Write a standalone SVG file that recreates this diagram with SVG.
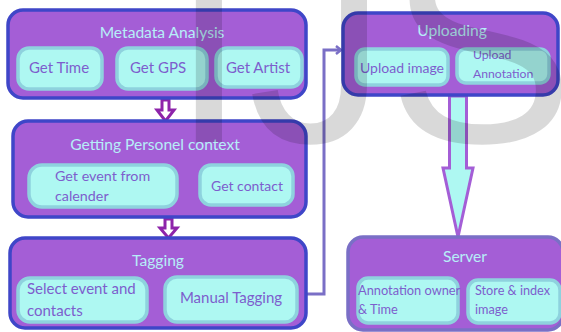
<svg xmlns="http://www.w3.org/2000/svg" width="561" height="332" viewBox="0 0 561 332">
  <style>
    .grp { fill: #a45ed6; stroke: #3f46c8; stroke-width: 3.5; }
    .grp2 { fill: #a45ed6; stroke: #7a6fc6; stroke-width: 3.5; }
    .item { fill: #aef8f2; stroke: #8ed2de; stroke-width: 3.5; }
    .title { font-family: Lato, "Open Sans", sans-serif; font-size: 15.6px; fill: #b6eef8; text-anchor: middle; }
    .lbl { font-family: Lato, "Open Sans", sans-serif; font-size: 15px; fill: #7d5ecd; }
    .mid { text-anchor: middle; }
    .step { fill: #ffffff; stroke: #8e24aa; stroke-width: 3; stroke-linejoin: miter; }
    .link { fill: none; stroke: #7a6fc6; stroke-width: 3; }
    .wm { font-family: "Liberation Sans", Arial, sans-serif; font-size: 280px; fill: #000000; fill-opacity: 0.15; }
  </style>
  <defs>
    <marker id="chev" viewBox="0 0 8 10" refX="6" refY="5" markerWidth="8" markerHeight="10" markerUnits="userSpaceOnUse" orient="auto">
      <path d="M1,1 L6,5 L1,9" fill="none" stroke="#7a6fc6" stroke-width="2.5"/>
    </marker>
  </defs>

  <rect width="561" height="332" fill="#ffffff"/>

  <!-- connectors -->
  <g id="connectors">
    <polygon class="step" points="162,100 169,100 169,110 174,110 165.5,121 157,110 162,110"/>
    <polygon class="step" points="165,219 172,219 172,228 177,228 168.5,238 160,228 165,228"/>
    <polyline class="link" points="306,294 324,294 324,50 341,50" marker-end="url(#chev)"/>
    <polygon points="449.5,96 466.5,96 466.5,168 473,168 458,237 443,168 449.5,168" fill="#aef8f2" stroke="#a45ed6" stroke-width="3"/>
  </g>

  <!-- Metadata Analysis -->
  <g id="metadata">
    <rect class="grp" x="8" y="10" width="298" height="88" rx="15"/>
    <text class="title" x="162" y="38">Metadata Analysis</text>
    <rect class="item" x="18" y="48" width="84" height="41" rx="11"/>
    <text class="lbl mid" x="59" y="73">Get Time</text>
    <rect class="item" x="117" y="48" width="90" height="41" rx="11"/>
    <text class="lbl mid" x="158" y="73">Get GPS</text>
    <rect class="item" x="216" y="48" width="86" height="39" rx="11"/>
    <text class="lbl mid" x="258" y="73">Get Artist</text>
  </g>

  <!-- Getting Personel context -->
  <g id="personal">
    <rect class="grp" x="13" y="121" width="293" height="96" rx="15"/>
    <text class="title" x="155" y="150">Getting Personel context</text>
    <rect class="item" x="29" y="165" width="148" height="42" rx="13"/>
    <text class="lbl" x="55" y="181" style="font-size:14.3px">Get event from</text>
    <text class="lbl" x="55" y="201" style="font-size:14.3px">calender</text>
    <rect class="item" x="200" y="165" width="93" height="40" rx="11"/>
    <text class="lbl mid" x="247" y="191" style="font-size:14px">Get contact</text>
  </g>

  <!-- Tagging -->
  <g id="tagging">
    <rect class="grp" x="10" y="238" width="296" height="90" rx="15"/>
    <text class="title" x="158" y="266">Tagging</text>
    <rect class="item" x="18" y="278" width="129" height="44" rx="12"/>
    <text class="lbl" x="27" y="294">Select event and</text>
    <text class="lbl" x="27" y="316">contacts</text>
    <rect class="item" x="165" y="277" width="132" height="45" rx="12"/>
    <text class="lbl mid" x="231" y="303">Manual Tagging</text>
  </g>

  <!-- Uploading -->
  <g id="uploading">
    <rect class="grp" x="343" y="13" width="215" height="82" rx="15"/>
    <text class="title" x="452" y="36">Uploading</text>
    <rect class="item" x="356" y="49" width="92" height="36" rx="9"/>
    <text class="lbl mid" x="402" y="73" style="font-size:14px">Upload image</text>
    <rect class="item" x="457" y="49" width="92" height="34" rx="9"/>
    <text class="lbl" x="473" y="59" style="font-size:12.2px">Upload</text>
    <text class="lbl" x="473" y="78" style="font-size:12.2px">Annotation</text>
  </g>

  <!-- Server -->
  <g id="server">
    <rect class="grp2" x="348" y="237" width="215" height="93" rx="15"/>
    <text class="title" x="465" y="262">Server</text>
    <rect class="item" x="358" y="278" width="100" height="45" rx="10"/>
    <text class="lbl" x="358" y="295" style="font-size:12.8px">Annotation owner</text>
    <text class="lbl" x="358" y="314" style="font-size:12.8px">&amp; Time</text>
    <rect class="item" x="468" y="280" width="92" height="43" rx="10"/>
    <text class="lbl" x="475" y="295" style="font-size:12.7px">Store &amp; index</text>
    <text class="lbl" x="475" y="314" style="font-size:12.7px">image</text>
  </g>

  <!-- faint background lettering laid over the diagram -->
  <text class="wm" x="170" y="142">IJS</text>
</svg>
